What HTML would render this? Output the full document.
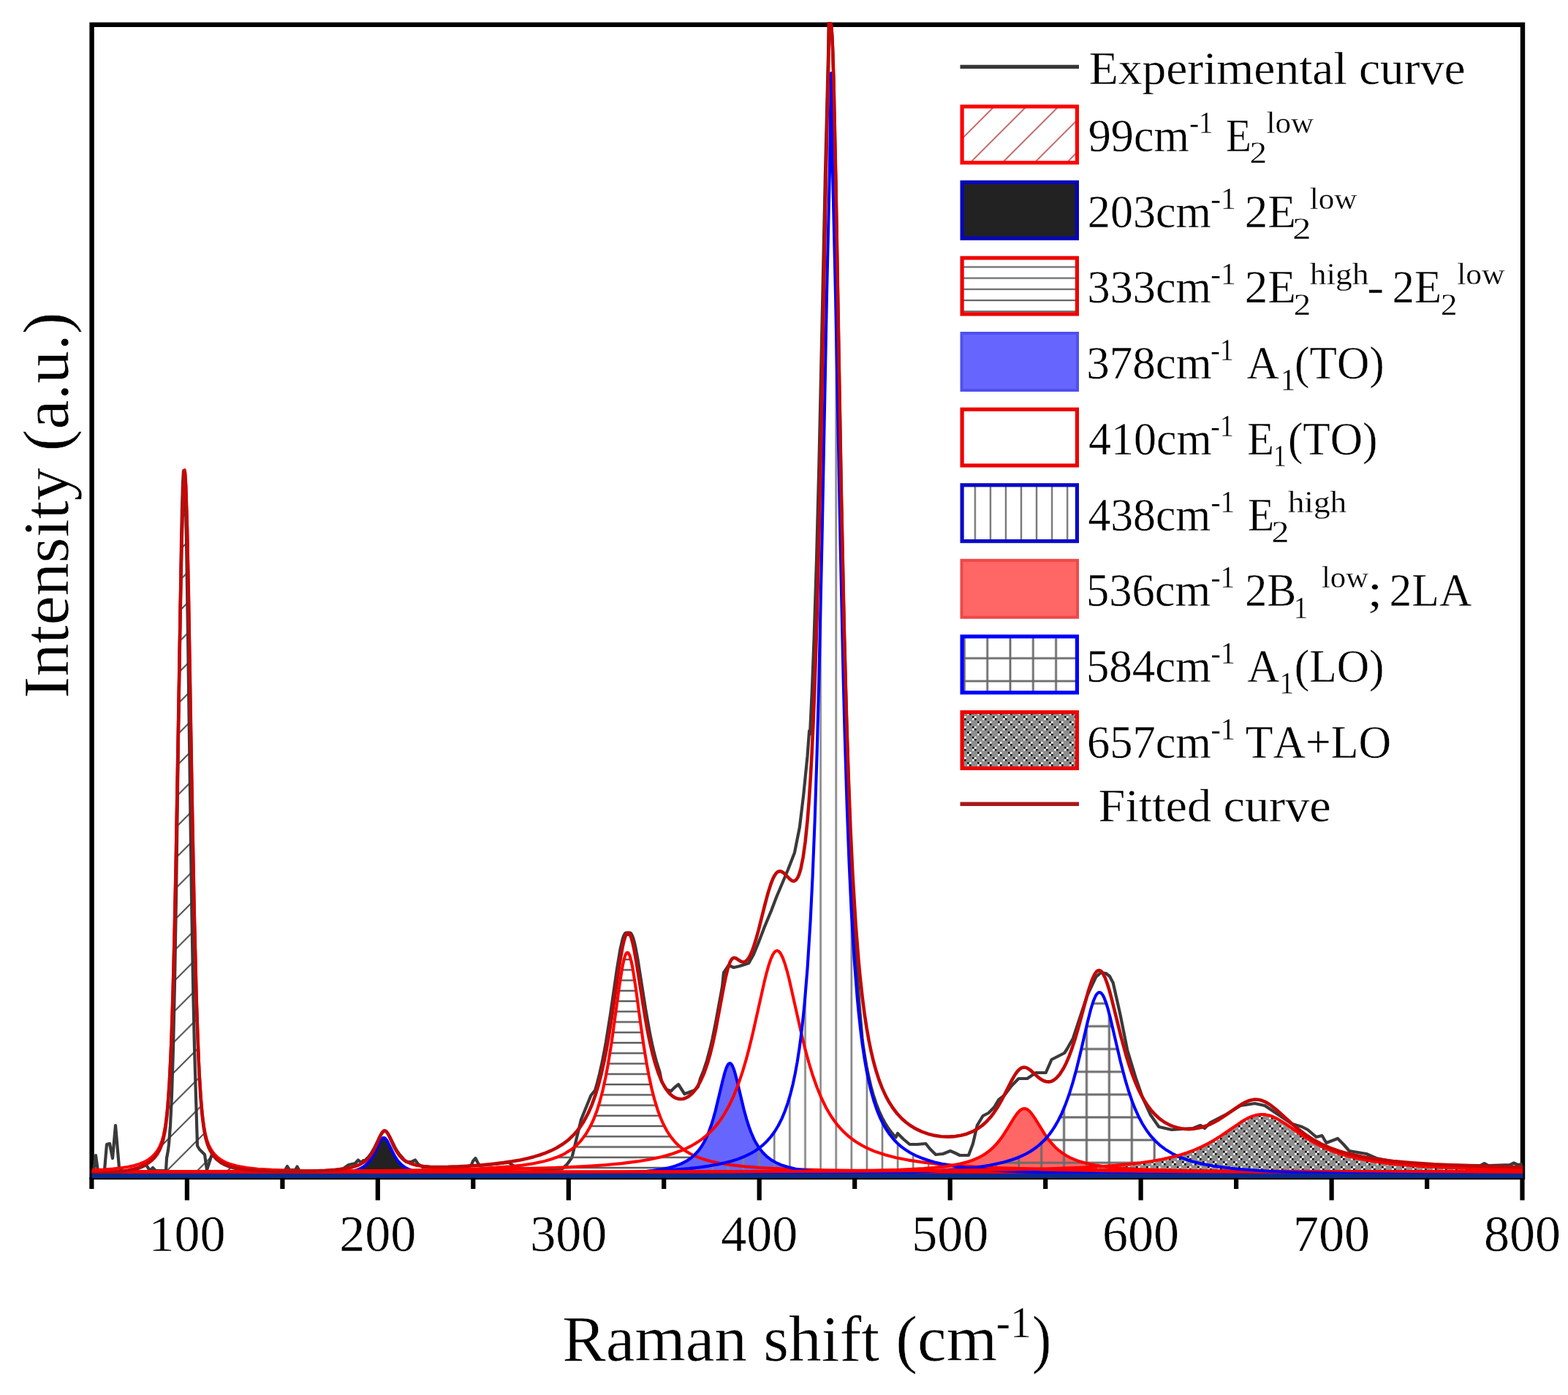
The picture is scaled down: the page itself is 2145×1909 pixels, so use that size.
<!DOCTYPE html><html><head><meta charset="utf-8"><style>html,body{margin:0;padding:0;background:#fff;}svg{display:block;}text{font-family:"Liberation Serif",serif;font-kerning:none;}</style></head><body>
<svg width="2145" height="1909" viewBox="0 0 2145 1909">
<rect width="100%" height="100%" fill="#fff"/>
<defs>
<pattern id="pDiag" patternUnits="userSpaceOnUse" width="41.6" height="41.6" x="0" y="0"><path d="M-10.4,10.4 L10.4,-10.4 M0,41.6 L41.6,0 M31.2,52 L52,31.2" stroke="#333" stroke-width="1.8"/></pattern>
<pattern id="pHor" patternUnits="userSpaceOnUse" width="20" height="14.25" x="0" y="2.05"><rect y="-1.2" width="20" height="2.4" fill="#555"/><rect y="13.05" width="20" height="2.4" fill="#555"/></pattern>
<pattern id="pVer" patternUnits="userSpaceOnUse" width="21.1" height="20" x="4.3" y="0"><rect x="-1.3" width="2.6" height="20" fill="#808080"/><rect x="19.8" width="2.6" height="20" fill="#808080"/></pattern>
<pattern id="pGrid" patternUnits="userSpaceOnUse" width="30.92" height="31.14" x="2.3" y="3.1"><rect x="-1.5" width="3" height="31.14" fill="#6a6a6a"/><rect x="29.42" width="3" height="31.14" fill="#6a6a6a"/><rect y="-1.5" width="30.92" height="3" fill="#6a6a6a"/><rect y="29.64" width="30.92" height="3" fill="#6a6a6a"/></pattern>
<pattern id="pCheck" patternUnits="userSpaceOnUse" width="14" height="14"><rect width="14" height="14" fill="#8e8e8e"/><path d="M0,0h2.8v2.8h-2.8zM2.8,2.8h2.8v2.8h-2.8zM7,7h2.8v2.8h-2.8zM9.8,9.8h2.8v2.8h-2.8z" fill="#111"/><path d="M2.8,0h2.8v2.8h-2.8zM0,2.8h2.8v2.8h-2.8zM9.8,7h2.8v2.8h-2.8zM7,9.8h2.8v2.8h-2.8z" fill="#f2f2f2"/></pattern>
<pattern id="pDiagL" patternUnits="userSpaceOnUse" width="44" height="44" x="9.8" y="0"><path d="M-11,11 L11,-11 M0,44 L44,0 M33,55 L55,33" stroke="#bf5a5a" stroke-width="1.8"/></pattern>
<pattern id="pHorL" patternUnits="userSpaceOnUse" width="20" height="15.2" x="0" y="0.6"><rect y="-1.1" width="20" height="2.2" fill="#666"/><rect y="14.1" width="20" height="2.2" fill="#666"/></pattern>
<pattern id="pVerL" patternUnits="userSpaceOnUse" width="21.05" height="20" x="7.7" y="0"><rect x="-1.2" width="2.4" height="20" fill="#777"/><rect x="19.85" width="2.4" height="20" fill="#777"/></pattern>
<pattern id="pGridL" patternUnits="userSpaceOnUse" width="31.3" height="31.3" x="4.8" y="24.4"><rect x="-1.4" width="2.8" height="31.3" fill="#6a6a6a"/><rect x="29.9" width="2.8" height="31.3" fill="#6a6a6a"/><rect y="-1.4" width="31.3" height="2.8" fill="#6a6a6a"/><rect y="29.9" width="31.3" height="2.8" fill="#6a6a6a"/></pattern>
<clipPath id="plot"><rect x="125.6" y="30" width="1957.4" height="1584"/></clipPath>
</defs>
<rect x="125.6" y="33.8" width="1957.4" height="1577.2" fill="none" stroke="#000" stroke-width="6.4"/>
<path d="M255.9,1611.0 V1642.5 M516.8,1611.0 V1642.5 M777.8,1611.0 V1642.5 M1038.7,1611.0 V1642.5 M1299.7,1611.0 V1642.5 M1560.6,1611.0 V1642.5 M1821.6,1611.0 V1642.5 M2082.5,1611.0 V1642.5 M125.4,1611.0 V1627 M386.4,1611.0 V1627 M647.3,1611.0 V1627 M908.2,1611.0 V1627 M1169.2,1611.0 V1627 M1430.2,1611.0 V1627 M1691.1,1611.0 V1627 M1952.1,1611.0 V1627" stroke="#000" stroke-width="6.2" fill="none"/>
<text x="255.9" y="1711.5" font-size="70" text-anchor="middle" fill="#000" stroke="#fff" stroke-width="0.42">100</text>
<text x="516.8" y="1711.5" font-size="70" text-anchor="middle" fill="#000" stroke="#fff" stroke-width="0.42">200</text>
<text x="777.8" y="1711.5" font-size="70" text-anchor="middle" fill="#000" stroke="#fff" stroke-width="0.42">300</text>
<text x="1038.7" y="1711.5" font-size="70" text-anchor="middle" fill="#000" stroke="#fff" stroke-width="0.42">400</text>
<text x="1299.7" y="1711.5" font-size="70" text-anchor="middle" fill="#000" stroke="#fff" stroke-width="0.42">500</text>
<text x="1560.6" y="1711.5" font-size="70" text-anchor="middle" fill="#000" stroke="#fff" stroke-width="0.42">600</text>
<text x="1821.6" y="1711.5" font-size="70" text-anchor="middle" fill="#000" stroke="#fff" stroke-width="0.42">700</text>
<text x="2082.5" y="1711.5" font-size="70" text-anchor="middle" fill="#000" stroke="#fff" stroke-width="0.42">800</text>
<g clip-path="url(#plot)">
<path d="M125.4,1603L128,1603 131,1581 134,1603 141,1603 143,1601 146,1566 150,1565 154,1585 158,1540 163,1598 166,1602 170,1603.4 182,1601 188,1599.3 194,1597.1 200,1594.2 205,1602 209,1598 213,1602 227,1602 228,1585 230,1574 231,1565.7 233,1540.2 235,1498.6 237,1434.8 239,1344.5 241,1226.8 246,865.9 248,740.9 249,694 250,661.1 251,644.1 252,644.1 253,661.1 254,694 255,740.9 257,865.9 262,1226.8 264,1344.5 266,1434.8 270,1568 273,1573 280,1580 283,1601 290,1579.4 296,1586.4 302,1591.1 308,1594.3 314,1596.7 320,1598.5 326,1599.8 338,1601.6 356,1603.1 368,1603.7 386,1604 390,1601 393,1596 396,1601 404,1601 406.5,1596.5 409,1601 414,1603.9 444,1602.9 462,1601.6 470,1599 477,1594 486,1592 490,1587.5 494,1591 497,1588 499,1588.2 504,1583.3 508,1577.9 512,1571.1 521,1552.8 523,1549.8 524,1548.8 525,1548.1 526,1547.8 527,1547.9 528,1548.4 529,1549.2 531,1551.8 533,1555.3 540,1569.5 543,1574.8 547,1580.4 551,1584.7 553,1588 556,1590 563,1590 568,1587.5 572,1593 578,1597 586,1597 598,1597.5 610,1597.5 622,1597.2 640,1596.3 645,1594 647,1589 650.5,1585 653,1590 656,1595 666,1594.2 678,1593 696,1590.6 706,1598 730,1600 755,1600 769,1599.5 776,1593 782.4,1584 795,1532 808.4,1499 814,1492.2 817,1481.8 820,1470 823,1456.8 826,1442 829,1425.6 835,1388 844,1325.8 848.5,1298.9 851.5,1285.7 853,1281.2 854.5,1278.1 856,1276.6 857.5,1276.7 859,1278.9 860.5,1276.9 862,1276.5 863.5,1277.7 865,1280.4 866.5,1284.7 868,1290.2 869.5,1297 872.5,1313.2 883,1380 889,1414 892,1428.5 895,1441.4 898,1452.7 902.5,1466.8 905,1480 911.6,1491 918,1493 923,1488 928.1,1484 936.4,1497 950,1492 955,1487 958,1476 962.5,1465 967,1451.3 971.5,1434.6 974.5,1421.6 979,1399.5 988,1350.4 990,1331 996.8,1321 1003.7,1324 1012,1322 1024.3,1318 1031,1306 1037.6,1290 1046,1268 1055.2,1246 1062,1228 1078,1190 1086.9,1167 1093.9,1132 1099.2,1088 1104.5,1035 1107.1,1000 1108,1005 1111,941.2 1113.5,876.7 1117,766.3 1120.5,630.9 1129,234.2 1133,75.2 1134,12 1134.5,16.2 1135,30.1 1135.5,32.8 1136.5,32.9 1137,34.4 1138,44.4 1139,64.2 1140.5,111.4 1143.5,253.6 1151,682 1155,868.7 1158,981 1162.5,1122.1 1165.5,1199.9 1168.5,1263.8 1171.5,1316.8 1175.5,1374.3 1179.5,1420.3 1180.5,1428.9 1182.5,1442.1 1185.5,1459.4 1188.5,1474.1 1191.5,1486.7 1194.5,1497.6 1198.5,1509.9 1202.5,1520.3 1206.5,1529 1211.5,1538.2 1214.5,1542.9 1218.5,1548.4 1221.5,1552.1 1225.5,1556.4 1228,1551 1236,1559 1244.4,1566 1255,1566 1266.4,1565 1272,1572 1280,1580 1290,1579 1300,1575 1307,1578 1313,1581 1325,1581 1331,1565 1336.8,1540 1344.6,1527 1352.4,1523 1360.2,1515 1366.1,1505 1373.9,1499 1383.7,1486 1393.5,1476 1405.2,1476 1417,1468 1430.7,1468 1438.5,1450 1456.1,1441 1460,1435 1467.9,1421 1487.4,1362 1499.2,1337 1506,1331 1512.9,1332 1518,1336 1522.7,1345 1532.4,1388 1542.2,1437 1554,1476 1563,1502 1573.5,1525 1585.3,1542 1602.9,1546 1632.2,1544 1642.2,1540 1648,1544 1655.9,1536 1677.4,1525 1697,1513 1716.6,1510 1730.3,1513 1767.4,1538 1781.1,1542 1789,1546 1800.7,1556 1808.5,1554 1814.4,1564 1830,1558 1837.9,1566 1845.7,1575 1869.2,1579 1882.9,1585 1912.3,1591 1960,1594 2025,1595 2030.5,1592 2036,1595 2066,1594 2071,1591.5 2076,1594 2082.6,1593" fill="none" stroke="#3a3a3a" stroke-width="4.2" stroke-linejoin="round"/>
<path d="M125.6,1604L125.6,1601.3 141.6,1600.5 154.6,1599.5 165.6,1598.3 175.6,1596.8 183.6,1595 190.6,1592.9 196.6,1590.5 202.6,1587.2 207.6,1583.5 211.6,1579.5 215.6,1574.2 218.6,1568.8 221.6,1561.2 223.6,1554 225.6,1544 226.6,1537.6 228.6,1520.8 229.6,1509.8 231.6,1481.3 233.6,1441.6 234.6,1416.7 236.6,1355.2 238.6,1277 240.6,1182 246.6,838.7 248.6,736.9 250.6,666.7 251.6,648.4 252,644.7 252.5,643 252.8,643.4 253.2,646.8 254.2,663.2 255.2,691.6 256.2,730.3 258.2,830.3 264.6,1192.2 267.6,1325.9 269.6,1394 272.6,1466.9 273.6,1484.6 275.6,1512.2 277.6,1531.6 279.6,1545.2 281.6,1554.8 284.6,1564.6 286.6,1569.2 288.6,1573 292.6,1578.6 297.6,1583.7 300.6,1586 304.6,1588.6 311.6,1591.9 320.6,1594.8 330.6,1597 343.6,1598.8 357.6,1600.1 375.6,1601.1 397.6,1601.9 424.6,1602.5 502.6,1603.3 633.6,1603.7 633.6,1604Z" fill="url(#pDiag)" stroke="none"/>
<path d="M321.6,1609L321.6,1608.7 395.6,1608.3 438.6,1607.4 453.6,1606.7 465.6,1605.7 474.6,1604.5 482.6,1602.9 488.6,1601 494.6,1598.3 499.6,1594.9 503.6,1591.1 507.6,1586 510.6,1581.1 513.6,1575.3 518.6,1564.6 520.6,1560.9 522.6,1558.2 523.6,1557.4 524.6,1557 525.6,1557.1 526.6,1557.5 527.6,1558.4 529.6,1561.2 539.6,1581.4 542.6,1586.3 546.6,1591.3 550.6,1595.1 555.6,1598.4 561.6,1601.1 567.6,1602.9 575.6,1604.5 584.6,1605.7 596.6,1606.7 611.6,1607.4 653.6,1608.3 727.6,1608.7 727.6,1609Z" fill="#222222" stroke="none"/>
<path d="M125.6,1604L125.6,1603.6 331.6,1603.3 467.6,1602.7 561.6,1601.7 627.6,1600.2 654.6,1599.2 677.6,1597.9 697.6,1596.3 714.6,1594.5 729.6,1592.2 742.6,1589.6 753.6,1586.5 763.6,1582.9 768.6,1580.7 773.6,1578.1 781.6,1573 788.6,1567.3 792.6,1563.3 795.6,1559.9 801.6,1551.8 806.6,1543.3 811.6,1532.9 816.6,1519.9 820.6,1507.1 824.6,1491.9 828.6,1473.6 831.6,1457.7 836.6,1426.9 847.6,1347 851.6,1322.2 853.6,1313 855.6,1306.7 856.6,1304.8 857.6,1303.7 858.6,1303.5 859.6,1304.2 860.6,1305.8 861.6,1308.3 863.6,1315.5 865.6,1325.5 869.6,1351.2 879.6,1424.2 883.6,1449.7 886.6,1466.5 889.6,1481.3 893.6,1498.3 896.6,1509.2 900.6,1521.6 905.6,1534.3 910.6,1544.5 913.6,1549.6 916.6,1554.1 919.6,1558.2 923.6,1562.9 926.6,1566 930.6,1569.6 934.6,1572.7 938.6,1575.5 942.6,1577.9 947.6,1580.5 957.6,1584.7 968.6,1588.2 980.6,1591 994.6,1593.4 1010.6,1595.5 1029.6,1597.2 1050.6,1598.6 1075.6,1599.8 1105.6,1600.7 1179.6,1602 1284.6,1602.9 1440.6,1603.4 1680.6,1603.7 1680.6,1604Z" fill="url(#pHor)" stroke="none"/>
<path d="M478.6,1609L478.6,1608.7 705.6,1608.1 770.6,1607.4 818.6,1606.5 854.6,1605.2 869.6,1604.2 882.6,1603.2 893.6,1601.9 903.6,1600.4 912.6,1598.7 920.6,1596.6 927.6,1594.3 934.6,1591.3 940.6,1587.9 945.6,1584.4 950.6,1580 954.6,1575.7 958.6,1570.4 962.6,1564 966.6,1556.1 969.6,1549 972.6,1540.8 975.6,1531.3 980.6,1512.7 989.6,1474.7 992.6,1464.2 994.6,1459.1 995.6,1457.2 996.6,1455.9 997.6,1455.2 998.6,1455 999.6,1455.4 1000.6,1456.4 1001.6,1457.9 1002.6,1460 1004.6,1465.4 1008.6,1480.3 1016.6,1514.3 1021.6,1532.7 1024.6,1542 1027.6,1550 1030.6,1557 1033.6,1562.9 1037.6,1569.6 1041.6,1575 1045.6,1579.4 1050.6,1584 1055.6,1587.6 1061.6,1591 1068.6,1594.1 1075.6,1596.4 1083.6,1598.5 1092.6,1600.3 1102.6,1601.8 1113.6,1603.1 1140.7,1605.1 1176.6,1606.5 1223.6,1607.4 1289.6,1608 1518.6,1608.7 1518.6,1609Z" fill="#6666ff" stroke="none"/>
<path d="M125.6,1609L125.6,1608.6 488.6,1608.1 606.6,1607.7 697.6,1607 770.6,1606.2 827.6,1605.1 873.6,1603.6 910.6,1601.7 942.6,1599.1 956.6,1597.5 969.6,1595.6 981.6,1593.5 991.6,1591.3 1000.6,1589 1009.6,1586.1 1017.6,1583 1025.6,1579.2 1032.6,1575.2 1038.6,1571 1044.6,1566.1 1049.6,1561.2 1054.6,1555.5 1059.6,1548.7 1064.6,1540.5 1069.6,1530.6 1073.6,1521 1077.6,1509.7 1081.6,1496.1 1084.6,1484 1087.6,1469.9 1090.6,1453.5 1093.6,1434.1 1095.6,1419.2 1098.6,1393.3 1100.6,1373.2 1104.6,1324.4 1108.6,1260.6 1111.6,1199.7 1114.6,1124.5 1117.6,1031.7 1120.6,918.4 1124.6,734.1 1131,403 1135,232.4 1136.7,109.5 1137,100 1137.3,109.5 1139,232.4 1143,403 1149.6,744.1 1153.6,926.6 1155.6,1003.6 1158.6,1101.6 1161.6,1181.2 1164.6,1245.6 1168.6,1313 1172.6,1364.4 1174.6,1385.6 1177.6,1412.8 1179.6,1428.4 1182.6,1448.6 1185.6,1465.8 1188.6,1480.4 1191.6,1493 1195.6,1507.2 1199.6,1518.9 1203.6,1528.8 1207.6,1537.2 1212.6,1545.9 1216.6,1551.8 1221.6,1558.1 1226.6,1563.5 1232.6,1568.9 1238.6,1573.3 1245.6,1577.7 1252.6,1581.3 1260.6,1584.7 1269.6,1587.8 1278.6,1590.4 1288.6,1592.7 1299.6,1594.8 1311.6,1596.7 1324.6,1598.3 1339.6,1599.9 1355.6,1601.1 1390.6,1603.1 1434.6,1604.7 1488.6,1605.9 1556.6,1606.9 1641.6,1607.5 1750.6,1608 2083,1608.6 2083,1609Z" fill="url(#pVer)" stroke="none"/>
<path d="M823.6,1604L823.6,1603.7 1054.6,1603.2 1125.6,1602.7 1178.6,1602 1220.6,1601 1252.6,1599.7 1277.6,1597.9 1288.6,1596.7 1298.6,1595.4 1307.6,1593.9 1315.6,1592.2 1322.6,1590.3 1329.6,1588 1335.6,1585.6 1341.6,1582.7 1346.6,1579.8 1351.6,1576.3 1356.6,1572.1 1360.6,1568.2 1364.6,1563.8 1368.6,1558.8 1375.6,1548.6 1387.6,1529.2 1392.6,1522.3 1395.6,1519.4 1397.6,1518 1399.6,1517.2 1401.6,1517 1403.6,1517.4 1405.6,1518.4 1407.6,1519.9 1410.6,1523.1 1415.6,1530.1 1428.6,1551.1 1434.6,1559.6 1438.6,1564.5 1442.6,1568.9 1446.6,1572.7 1450.6,1576 1455.6,1579.5 1461.6,1583 1467.6,1585.9 1473.6,1588.2 1480.6,1590.5 1487.6,1592.3 1495.6,1594 1504.6,1595.5 1525.6,1597.9 1550.6,1599.7 1582.6,1601 1624.6,1602 1677.6,1602.7 1748.6,1603.2 1978.6,1603.7 1978.6,1604Z" fill="#ff6666" stroke="none"/>
<path d="M434.6,1609L434.6,1608.7 738.6,1608.4 937.6,1607.9 1074.6,1607.2 1170.6,1605.9 1209.6,1605.1 1242.6,1604.1 1270.6,1602.8 1295.6,1601.3 1317.6,1599.5 1336.6,1597.3 1352.6,1594.9 1367.6,1591.8 1381.6,1588 1393.6,1583.7 1399.6,1581 1404.6,1578.5 1413.6,1573 1418.6,1569.3 1422.6,1566 1426.6,1562.3 1430.6,1558.1 1437.6,1549.5 1441.6,1543.7 1444.6,1538.8 1449.6,1529.6 1454.6,1518.8 1459.6,1506.1 1463.6,1494.5 1468.6,1478 1473.6,1459.2 1487.6,1399.2 1492.6,1379.8 1495.6,1370.3 1498.6,1363.2 1500.6,1360.1 1501.6,1359.1 1502.6,1358.4 1503.6,1358 1504.6,1358.1 1505.6,1358.5 1506.6,1359.2 1508.6,1361.8 1510.6,1365.7 1513.6,1373.8 1515.6,1380.5 1518.6,1391.8 1532.6,1451.9 1539.6,1478.7 1543.6,1492 1548.6,1506.7 1552.6,1516.9 1557.6,1528 1562.6,1537.5 1568.6,1547 1574.6,1554.9 1580.6,1561.5 1587.6,1567.9 1595.6,1573.8 1603.6,1578.6 1612.6,1582.9 1622.6,1586.7 1633.6,1590.1 1645.6,1593 1659.6,1595.6 1675.6,1597.8 1692.6,1599.7 1712.6,1601.3 1734.6,1602.7 1759.6,1603.8 1787.6,1604.8 1857.6,1606.3 1952.6,1607.3 2083,1608 2083,1609Z" fill="url(#pGrid)" stroke="none"/>
<path d="M544.6,1604L544.6,1603.7 1009.6,1603.2 1153.6,1602.7 1262.6,1602.1 1347.6,1601.2 1413.6,1599.9 1466.6,1598.2 1509.6,1595.9 1527.6,1594.6 1544.6,1593 1559.6,1591.3 1573.6,1589.3 1586.6,1587.1 1598.6,1584.5 1609.6,1581.8 1620.6,1578.5 1629.6,1575.3 1638.6,1571.7 1647.6,1567.5 1655.6,1563.2 1662.6,1559.2 1670.6,1554.1 1696.6,1536.2 1701.6,1533.1 1706.6,1530.4 1711.6,1528.1 1716.6,1526.4 1721.6,1525.3 1726.6,1525 1731.6,1525.4 1736.6,1526.5 1741.6,1528.3 1747.6,1531.2 1757.6,1537.3 1778.6,1551.8 1788.6,1558.3 1799.6,1564.7 1810.6,1570.1 1821.6,1574.8 1832.6,1578.7 1845.6,1582.5 1858.6,1585.6 1875.6,1588.8 1895.6,1591.6 1917.6,1594 1941.6,1595.9 1969.6,1597.5 2001.6,1598.8 2038.6,1599.9 2083,1600.8 2083,1604Z" fill="url(#pCheck)" stroke="none"/>
<path d="M125.6,1601.3L141.6,1600.5 154.6,1599.5 165.6,1598.3 175.6,1596.8 183.6,1595 190.6,1592.9 196.6,1590.5 202.6,1587.2 207.6,1583.5 211.6,1579.5 215.6,1574.2 218.6,1568.8 221.6,1561.2 223.6,1554 225.6,1544 226.6,1537.6 228.6,1520.8 229.6,1509.8 231.6,1481.3 233.6,1441.6 234.6,1416.7 236.6,1355.2 238.6,1277 240.6,1182 246.6,838.7 248.6,736.9 250.6,666.7 251.6,648.4 252,644.7 252.5,643 252.8,643.4 253.2,646.8 254.2,663.2 256,719.8 258,816.6 262.6,1084.3 265.6,1240.9 268.6,1362.1 270.6,1421.9 272.6,1466.9 274.6,1499.6 276.6,1522.7 277.6,1531.6 279.6,1545.2 280.6,1550.4 282.6,1558.6 284.6,1564.6 286.6,1569.2 288.6,1573 291.6,1577.4 294.6,1580.8 297.6,1583.7 301.6,1586.7 305.6,1589.1 309.6,1591.1 314.6,1593 324.6,1595.8 337.6,1598.1 352.6,1599.7 371.6,1600.9 396.6,1601.9 428.6,1602.6 470.6,1603.1 583.6,1603.6 790.6,1603.8 2083,1604" fill="none" stroke="#ff0000" stroke-width="4.1" stroke-linejoin="round"/>
<path d="M125.6,1608.9L308.6,1608.7 395.6,1608.3 422.6,1607.8 442.6,1607.2 458.6,1606.3 470.6,1605.1 480.6,1603.4 488.6,1601 494.6,1598.3 497.6,1596.4 500.6,1594 504.6,1590 508.6,1584.5 512.6,1577.3 518.6,1564.6 520.6,1560.9 522.6,1558.2 523.6,1557.4 524.6,1557 525.6,1557.1 526.6,1557.5 527.6,1558.4 529.6,1561.2 538.6,1579.6 540.6,1583.2 543.6,1587.7 546.6,1591.3 549.6,1594.2 552.6,1596.5 555.6,1598.4 559.6,1600.3 564.6,1602.1 570.6,1603.6 576.6,1604.7 591.6,1606.3 613.6,1607.5 639.6,1608.1 676.6,1608.5 812.6,1608.8 2083,1609" fill="none" stroke="#0000ff" stroke-width="4.1" stroke-linejoin="round"/>
<path d="M125.6,1603.6L331.6,1603.3 467.6,1602.7 561.6,1601.7 627.6,1600.2 654.6,1599.2 677.6,1597.9 697.6,1596.3 714.6,1594.5 729.6,1592.2 742.6,1589.6 753.6,1586.5 763.6,1582.9 768.6,1580.7 773.6,1578.1 781.6,1573 788.6,1567.3 792.6,1563.3 795.6,1559.9 801.6,1551.8 806.6,1543.3 811.6,1532.9 816.6,1519.9 820.6,1507.1 824.6,1491.9 828.6,1473.6 831.6,1457.7 836.6,1426.9 847.6,1347 851.6,1322.2 853.6,1313 855.6,1306.7 856.6,1304.8 857.6,1303.7 858.6,1303.5 859.6,1304.2 860.6,1305.8 861.6,1308.3 863.6,1315.5 865.6,1325.5 869.6,1351.2 876.6,1403.1 880.6,1430.9 884.6,1455.5 887.6,1471.6 891.6,1490.2 895.6,1505.7 899.6,1518.7 903.6,1529.5 906.6,1536.5 909.6,1542.6 912.6,1548 915.6,1552.7 918.6,1556.9 922.6,1561.8 925.6,1565 929.6,1568.7 933.6,1572 938.6,1575.5 943.6,1578.5 948.6,1581 953.6,1583.2 959.6,1585.4 965.6,1587.3 972.6,1589.2 985.6,1592 1001.6,1594.4 1019.6,1596.4 1040.6,1598 1065.6,1599.3 1094.6,1600.4 1129.1,1601.3 1170.6,1601.9 1276.6,1602.8 1434.6,1603.4 2083,1603.9" fill="none" stroke="#ff0000" stroke-width="4.1" stroke-linejoin="round"/>
<path d="M125.6,1608.9L564.6,1608.6 677.6,1608.2 754.6,1607.6 810.6,1606.7 851.6,1605.3 867.6,1604.4 881.6,1603.3 893.6,1601.9 904.6,1600.3 914.6,1598.2 923.6,1595.7 931.6,1592.7 938.6,1589.2 944.6,1585.2 950.6,1580 955.6,1574.5 959.6,1569 963.6,1562.2 966.6,1556.1 969.6,1549 972.6,1540.8 975.6,1531.3 978.6,1520.5 988.6,1478.7 991.6,1467.4 993.6,1461.4 995.6,1457.2 996.6,1455.9 997.6,1455.2 998.6,1455 999.6,1455.4 1000.6,1456.4 1001.6,1457.9 1003.6,1462.5 1005.6,1468.7 1008.6,1480.3 1017.6,1518.2 1021.6,1532.7 1024.6,1542 1027.6,1550 1031.6,1559.1 1034.6,1564.7 1038.6,1571 1043.6,1577.3 1048.6,1582.3 1054.6,1586.9 1061.6,1591 1068.6,1594.1 1077.6,1597 1087.6,1599.4 1099.6,1601.4 1111.6,1602.9 1125.6,1604.1 1141.3,1605.1 1159.6,1605.9 1207.6,1607.2 1274.6,1607.9 1367.6,1608.4 1507.6,1608.7 2083,1608.9" fill="none" stroke="#0000ff" stroke-width="4.1" stroke-linejoin="round"/>
<path d="M125.6,1603.4L365.6,1602.9 530.6,1602 648.6,1600.8 694.6,1599.9 734.6,1598.9 769.6,1597.6 800.6,1596.1 827.6,1594.2 850.6,1592.1 871.6,1589.4 889.6,1586.4 905.6,1583 919.6,1579 932.6,1574.3 938.6,1571.7 944.6,1568.7 950.6,1565.3 955.6,1562.1 960.6,1558.6 965.6,1554.6 970.6,1550.1 974.6,1546 978.6,1541.6 982.6,1536.6 986.6,1531.1 990.6,1525 997.6,1512.5 1003.6,1499.8 1009.6,1484.8 1015.6,1467.2 1020.6,1450.4 1024.6,1435.4 1029.6,1415 1045.6,1343.6 1048.6,1331.6 1051.6,1320.9 1054.6,1312.1 1057.6,1305.7 1059.6,1302.9 1060.6,1301.9 1062.6,1301 1063.6,1301.1 1064.6,1301.4 1065.6,1302.1 1067.6,1304.4 1070.6,1310.2 1073.6,1318.4 1076.6,1328.6 1079.6,1340.3 1096.6,1415.9 1101.6,1436.2 1106.6,1454.6 1111.6,1471 1117.6,1488 1123.6,1502.5 1129.6,1514.9 1133.2,1521.3 1136.9,1527.4 1140.7,1533 1144.7,1538.3 1148.6,1542.9 1153.6,1548.3 1157.6,1552.1 1162.6,1556.4 1167.6,1560.2 1172.6,1563.6 1177.6,1566.6 1183.6,1569.8 1189.6,1572.7 1196.6,1575.6 1210.6,1580.3 1225.6,1584.2 1242.6,1587.6 1261.6,1590.4 1283.6,1592.9 1308.6,1595 1336.6,1596.7 1369.6,1598.2 1407.6,1599.4 1450.6,1600.3 1500.6,1601.1 1629.6,1602.3 1812.6,1603 2083,1603.5" fill="none" stroke="#ff0000" stroke-width="4.1" stroke-linejoin="round"/>
<path d="M125.6,1608.6L488.6,1608.1 606.6,1607.7 697.6,1607 770.6,1606.2 827.6,1605.1 873.6,1603.6 910.6,1601.7 942.6,1599.1 956.6,1597.5 969.6,1595.6 981.6,1593.5 991.6,1591.3 1000.6,1589 1009.6,1586.1 1017.6,1583 1025.6,1579.2 1032.6,1575.2 1038.6,1571 1044.6,1566.1 1049.6,1561.2 1054.6,1555.5 1059.6,1548.7 1064.6,1540.5 1069.6,1530.6 1073.6,1521 1077.6,1509.7 1081.6,1496.1 1084.6,1484 1087.6,1469.9 1090.6,1453.5 1093.6,1434.1 1095.6,1419.2 1098.6,1393.3 1100.6,1373.2 1104.6,1324.4 1108.6,1260.6 1111.6,1199.7 1114.6,1124.5 1117.6,1031.7 1120.6,918.4 1124.6,734.1 1131,403 1135,232.4 1136.7,109.5 1137,100 1137.3,109.5 1139,232.4 1143,403 1149.6,744.1 1153.6,926.6 1155.6,1003.6 1158.6,1101.6 1161.6,1181.2 1164.6,1245.6 1168.6,1313 1172.6,1364.4 1174.6,1385.6 1177.6,1412.8 1179.6,1428.4 1182.6,1448.6 1185.6,1465.8 1188.6,1480.4 1191.6,1493 1195.6,1507.2 1199.6,1518.9 1203.6,1528.8 1207.6,1537.2 1212.6,1545.9 1216.6,1551.8 1221.6,1558.1 1226.6,1563.5 1232.6,1568.9 1238.6,1573.3 1245.6,1577.7 1252.6,1581.3 1260.6,1584.7 1269.6,1587.8 1278.6,1590.4 1288.6,1592.7 1299.6,1594.8 1311.6,1596.7 1324.6,1598.3 1339.6,1599.9 1355.6,1601.1 1390.6,1603.1 1434.6,1604.7 1488.6,1605.9 1556.6,1606.9 1641.6,1607.5 1750.6,1608 2083,1608.6" fill="none" stroke="#0000ff" stroke-width="4.1" stroke-linejoin="round"/>
<path d="M125.6,1603.9L767.6,1603.8 1044.6,1603.2 1127.6,1602.7 1186.6,1601.9 1230.6,1600.7 1263.6,1599 1278.6,1597.8 1291.6,1596.4 1303.6,1594.6 1313.6,1592.6 1322.6,1590.3 1330.6,1587.7 1337.6,1584.7 1344.6,1581 1349.6,1577.7 1353.6,1574.7 1358.6,1570.2 1362.6,1566.1 1367.6,1560.1 1372.6,1553.2 1377.6,1545.4 1386.6,1530.7 1391.6,1523.5 1394.6,1520.3 1396.6,1518.6 1399.6,1517.2 1401.6,1517 1403.6,1517.4 1405.6,1518.4 1407.6,1519.9 1410.6,1523.1 1415.6,1530.1 1428.6,1551.1 1434.6,1559.6 1438.6,1564.5 1443.6,1569.9 1447.6,1573.5 1452.6,1577.4 1457.6,1580.8 1463.6,1584 1469.6,1586.7 1476.6,1589.3 1483.6,1591.3 1491.6,1593.2 1500.6,1594.9 1510.6,1596.3 1533.6,1598.6 1562.6,1600.3 1599.6,1601.5 1647.6,1602.4 1710.6,1603 1795.6,1603.4 2083,1603.8" fill="none" stroke="#ff0000" stroke-width="4.1" stroke-linejoin="round"/>
<path d="M125.6,1608.8L817.6,1608.3 995.6,1607.7 1117.6,1606.7 1206.6,1605.2 1240.6,1604.1 1270.6,1602.8 1296.6,1601.3 1318.6,1599.4 1337.6,1597.2 1354.6,1594.5 1370.6,1591.1 1384.6,1587 1391.6,1584.5 1397.6,1581.9 1403.6,1579 1408.6,1576.2 1413.6,1573 1418.6,1569.3 1423.6,1565.1 1427.6,1561.3 1431.6,1557 1435.6,1552.2 1439.6,1546.7 1442.6,1542.1 1447.6,1533.5 1452.6,1523.3 1457.6,1511.4 1462.6,1497.5 1467.6,1481.4 1472.6,1463.1 1477.6,1442.7 1487.6,1399.2 1492.6,1379.8 1495.6,1370.3 1498.6,1363.2 1500.6,1360.1 1501.6,1359.1 1502.6,1358.4 1503.6,1358 1504.6,1358.1 1505.6,1358.5 1506.6,1359.2 1508.6,1361.8 1510.6,1365.7 1513.6,1373.8 1515.6,1380.5 1518.6,1391.8 1532.6,1451.9 1539.6,1478.7 1543.6,1492 1548.6,1506.7 1552.6,1516.9 1557.6,1528 1562.6,1537.5 1568.6,1547 1574.6,1554.9 1580.6,1561.5 1587.6,1567.9 1595.6,1573.8 1603.6,1578.6 1612.6,1582.9 1622.6,1586.7 1633.6,1590.1 1645.6,1593 1659.6,1595.6 1675.6,1597.8 1692.6,1599.7 1712.6,1601.3 1734.6,1602.7 1759.6,1603.8 1787.6,1604.8 1857.6,1606.3 1952.6,1607.3 2083,1608" fill="none" stroke="#0000ff" stroke-width="4.1" stroke-linejoin="round"/>
<path d="M125.6,1603.8L819.6,1603.5 1167.6,1602.7 1279.6,1601.9 1364.6,1600.9 1430.6,1599.5 1482.6,1597.5 1505.6,1596.2 1525.6,1594.8 1543.6,1593.1 1560.6,1591.2 1575.6,1589 1589.6,1586.5 1602.6,1583.6 1614.6,1580.4 1624.6,1577.1 1634.6,1573.4 1644.6,1568.9 1653.6,1564.3 1661.6,1559.8 1669.6,1554.7 1697.6,1535.6 1702.6,1532.5 1707.6,1529.9 1712.6,1527.7 1717.6,1526.1 1722.6,1525.2 1726.6,1525 1731.6,1525.4 1736.6,1526.5 1741.6,1528.3 1747.6,1531.2 1757.6,1537.3 1778.6,1551.8 1788.6,1558.3 1799.6,1564.7 1810.6,1570.1 1821.6,1574.8 1832.6,1578.7 1845.6,1582.5 1858.6,1585.6 1875.6,1588.8 1895.6,1591.6 1917.6,1594 1941.6,1595.9 1969.6,1597.5 2001.6,1598.8 2038.6,1599.9 2083,1600.8" fill="none" stroke="#ff0000" stroke-width="4.1" stroke-linejoin="round"/>
<path d="M125.6,1606.5L141.6,1605.5 154.6,1604.4 165.6,1603.1 175.6,1601.4 183.6,1599.6 190.6,1597.4 196.6,1595 202.6,1591.6 207.6,1587.8 211.6,1583.8 215.6,1578.5 218.6,1573 221.6,1565.3 223.6,1558.1 225.6,1548.1 226.6,1541.7 228.6,1524.8 229.6,1513.8 231.6,1485.2 233.6,1445.5 234.6,1420.5 236.6,1358.9 238.6,1280.6 240.6,1185.6 246.6,841.8 248.6,739.9 250.6,669.6 251.6,651.2 252,647.5 252.5,645.8 252.8,646.2 253.2,649.6 254.2,666 256,722.6 258,819.6 262.6,1087.5 265.6,1244.2 268.6,1365.4 271.6,1449.5 272.6,1470.3 274.6,1503 276.6,1526.2 278.6,1542.4 280.6,1553.8 281.6,1558.2 283.6,1565.2 285.6,1570.4 287.6,1574.5 289.6,1577.8 292.6,1581.9 296.6,1586 300.6,1589.1 305.6,1592.2 310.6,1594.5 316.6,1596.5 323.6,1598.3 331.6,1599.8 341.6,1601 354.6,1602.1 369.6,1602.7 387.6,1603.1 407.6,1603 427.6,1602.6 444.6,1601.9 458.6,1600.9 469.6,1599.6 480.6,1597.6 488.6,1595.1 492.6,1593.3 495.6,1591.6 498.6,1589.6 501.6,1587 504.6,1583.9 506.6,1581.3 510.6,1575 513.6,1569.1 519.6,1555.7 522.6,1550.1 524.6,1547.9 525.6,1547.4 526.6,1547.4 527.6,1547.8 528.6,1548.6 530.6,1551.4 532.6,1555.2 538.6,1568.3 542.6,1575.7 546.6,1581.4 550.6,1585.6 553.6,1588 556.6,1589.8 562.6,1592.5 570.6,1594.7 579.6,1596 588.6,1596.7 599.6,1597 612.6,1596.9 627.6,1596.4 643.6,1595.5 659.6,1594.3 674.6,1592.8 688.6,1591.1 700.6,1589.3 711.6,1587.4 721.6,1585.2 730.6,1582.9 738.6,1580.5 746.6,1577.6 753.6,1574.7 760.6,1571.3 769.6,1565.8 774.6,1562.2 778.6,1558.9 785.6,1552.1 789.6,1547.5 792.6,1543.7 798.6,1534.7 804.6,1523.5 809.6,1512.1 814.6,1498.2 818.6,1485 822.6,1469.6 826.6,1451.6 829.6,1436.2 832.6,1419.2 836.6,1394 847.6,1318.6 851.6,1295.9 853.6,1287.2 855.6,1280.9 856.6,1278.7 857.6,1277.3 858.6,1276.5 859.6,1276.5 860.6,1277.2 861.6,1278.6 863.6,1283.4 865.6,1290.7 867.6,1300 870.6,1316.8 882.6,1392.6 885.6,1409.3 888.6,1424.4 892.6,1441.8 896.6,1456.4 900.6,1468.5 904.6,1478.3 906.6,1482.5 909.6,1487.9 912.6,1492.3 915.6,1496 918.6,1498.9 921.6,1501.1 924.6,1502.7 927.6,1503.6 930.6,1504 934.6,1503.7 937.6,1502.8 940.6,1501.3 944.6,1498.4 947.6,1495.6 950.6,1492 953.6,1487.8 958.6,1478.9 962.6,1469.9 967.6,1455.9 971.6,1442 974.6,1430 978.6,1411.6 989.6,1352.5 992.6,1337.7 995.6,1325.4 998.6,1316.8 1000.6,1313.2 1001.6,1312 1003.6,1310.8 1004.6,1310.7 1006.6,1311.2 1013.6,1315.7 1015.6,1316.4 1016.6,1316.6 1018.6,1316.3 1020.6,1315.2 1022.6,1313.2 1024.6,1310.3 1026.6,1306.6 1028.6,1302 1030.6,1296.6 1033.6,1287.3 1037.6,1273 1046.6,1237.1 1050.6,1222.1 1054.6,1209.4 1057.6,1201.9 1059.6,1198.1 1061.6,1195.2 1063.6,1193.3 1064.6,1192.7 1066.6,1192.2 1068.6,1192.5 1071.6,1194.3 1073.6,1196 1080.6,1203.2 1083.6,1205.3 1085.6,1205.7 1086.6,1205.6 1088.6,1204.4 1089.6,1203.4 1091.6,1200.2 1092.6,1197.9 1094.6,1192 1095.6,1188.3 1098.6,1173.4 1101.6,1152 1104.6,1122.6 1106.6,1097.6 1108.6,1067.4 1110.6,1031.4 1112.6,988.4 1114.6,937.6 1117.6,844.2 1120.6,727.4 1122.6,635.8 1130.3,222.2 1133.6,71.9 1134.6,6.8 1135.3,30.6 1135.6,32.6 1135.8,32.9 1136.5,32.8 1137.1,35 1138.3,49.3 1139.3,72 1140.4,107.6 1143.3,242.7 1150.6,661 1154.6,852 1157.6,967.3 1160.6,1061.3 1163.6,1137.6 1166.6,1199.6 1170.6,1265 1174.6,1315.7 1176.6,1336.8 1179.6,1364.1 1182.6,1387.2 1185.6,1406.9 1188.6,1423.9 1191.6,1438.5 1194.6,1451.3 1198.6,1465.8 1202.6,1478.1 1206.6,1488.6 1211.6,1499.6 1216.6,1508.8 1221.6,1516.5 1227.6,1524.3 1233.6,1530.7 1239.6,1536 1246.6,1541.1 1253.6,1545.2 1261.6,1548.9 1269.6,1551.7 1278.6,1553.9 1287.6,1555.2 1297.6,1555.6 1306.6,1555.1 1314.6,1553.8 1322.6,1551.7 1330.6,1548.4 1337.6,1544.5 1343.6,1540.2 1349.6,1534.8 1354.6,1529.3 1359.6,1522.8 1364.6,1515.3 1369.6,1506.7 1382.6,1481.2 1386.6,1473.9 1389.6,1469.1 1391.6,1466.4 1393.6,1464.2 1395.6,1462.5 1397.6,1461.3 1400.6,1460.6 1402.6,1460.7 1405.6,1461.8 1409.6,1464.5 1419.6,1473.6 1423.6,1476.7 1427.6,1479 1431.6,1480.3 1434.6,1480.4 1436.6,1480.2 1438.6,1479.6 1440.6,1478.6 1443.6,1476.6 1445.6,1474.8 1449.6,1470.3 1454.6,1462.5 1458.6,1454.7 1462.6,1445.3 1466.6,1434.4 1470.6,1422.1 1474.6,1408.4 1488.6,1357 1493.6,1341.7 1496.6,1334.8 1498.6,1331.4 1500.6,1329.1 1501.6,1328.4 1503.6,1327.9 1505.6,1328.6 1506.6,1329.4 1508.6,1331.9 1511.6,1337.7 1514.6,1345.7 1517.6,1355.4 1520.6,1366.5 1533.6,1418.9 1540.6,1444.6 1544.6,1457.6 1548.6,1469.3 1552.6,1479.8 1556.6,1489.2 1560.6,1497.4 1565.6,1506.3 1570.6,1513.9 1575.6,1520.4 1580.6,1525.8 1586.6,1531.2 1592.6,1535.5 1599.6,1539.3 1604.6,1541.4 1610.6,1543.2 1615.6,1544.3 1621.6,1545 1626.6,1545.1 1632.6,1544.7 1638.6,1543.8 1644.6,1542.4 1649.6,1540.8 1654.6,1538.8 1659.6,1536.5 1665.6,1533.3 1675.6,1526.9 1694.6,1513.6 1699.6,1510.5 1703.6,1508.3 1708.6,1506.2 1712.6,1505.2 1716.6,1504.6 1720.6,1504.8 1724.6,1505.5 1729.6,1507.3 1733.6,1509.4 1738.6,1512.7 1747.6,1519.9 1765.6,1536.3 1775.6,1544.9 1785.6,1552.4 1796.6,1559.6 1807.6,1565.5 1819.6,1570.8 1831.6,1575.1 1845.6,1579.1 1863.6,1583.1 1883.6,1586.4 1905.6,1589.1 1931.6,1591.4 1961.6,1593.4 1995.6,1594.9 2035.6,1596.2 2083,1597.3" fill="none" stroke="#c20808" stroke-width="4.6" stroke-linejoin="round"/>
<rect x="125.6" y="1605.9" width="1957.4" height="6.2" fill="#0c2a8a"/>
</g>
<text transform="translate(769.13,1861.50) scale(1.0032,1)" font-size="89" fill="#000" stroke="#fff" stroke-width="0.53" >Raman shift (cm</text>
<text transform="translate(1362.85,1829.90) scale(0.9491,1)" font-size="61" fill="#000" stroke="#fff" stroke-width="0.37" >-1</text>
<text transform="translate(1411.63,1861.50) scale(0.8968,1)" font-size="89" fill="#000" stroke="#fff" stroke-width="0.53" >)</text>
<text transform="translate(92.5,955.76) rotate(-90) scale(1.0135,1)" font-size="89" fill="#000" stroke="#fff" stroke-width="0.53">Intensity (a.u.)</text>
<path d="M1313.5,91.4 H1476.0" stroke="#363636" stroke-width="5.4"/>
<path d="M1313.5,1100.2 H1476.0" stroke="#a81818" stroke-width="5.6"/>
<rect x="1316.1" y="145.8" width="157.3" height="76.8" fill="url(#pDiagL)" stroke="#ff0000" stroke-width="5.2"/>
<rect x="1316.1" y="249.4" width="157.3" height="76.8" fill="#222222" stroke="#0606b8" stroke-width="5.2"/>
<rect x="1316.1" y="353.0" width="157.3" height="76.8" fill="url(#pHorL)" stroke="#ee0000" stroke-width="5.2"/>
<rect x="1315.5" y="456.0" width="158.5" height="78.0" fill="#6666ff" stroke="#5050f0" stroke-width="4"/>
<rect x="1316.1" y="560.2" width="157.3" height="76.8" fill="#ffffff" stroke="#ee0000" stroke-width="5.2"/>
<rect x="1316.1" y="663.8" width="157.3" height="76.8" fill="url(#pVerL)" stroke="#0a0ac8" stroke-width="5.2"/>
<rect x="1315.5" y="766.8" width="158.5" height="78.0" fill="#ff6666" stroke="#f04848" stroke-width="4"/>
<rect x="1316.1" y="871.0" width="157.3" height="76.8" fill="url(#pGridL)" stroke="#0000ff" stroke-width="5.2"/>
<rect x="1316.1" y="974.6" width="157.3" height="76.8" fill="url(#pCheck)" stroke="#ee0000" stroke-width="5.2"/>
<text transform="translate(1489.71,114.60) scale(1.0401,1)" font-size="63" fill="#000" stroke="#fff" stroke-width="0.38" >Experimental curve</text>
<text transform="translate(1502.59,1123.80) scale(1.0510,1)" font-size="63" fill="#000" stroke="#fff" stroke-width="0.38" >Fitted curve</text>
<text transform="translate(1488.80,207.00) scale(0.9858,1)" font-size="63" fill="#000" stroke="#fff" stroke-width="0.38" >99cm</text>
<text transform="translate(1627.27,182.00) scale(0.9081,1)" font-size="42.5" fill="#000" stroke="#fff" stroke-width="0.26" >-1</text>
<text transform="translate(1676.95,207.00) scale(0.9066,1)" font-size="63" fill="#000" stroke="#fff" stroke-width="0.38" >E</text>
<text transform="translate(1709.86,223.30) scale(1.0917,1)" font-size="42.5" fill="#000" stroke="#fff" stroke-width="0.26" >2</text>
<text transform="translate(1732.54,182.00) scale(1.0142,1)" font-size="42.5" fill="#000" stroke="#fff" stroke-width="0.26" >low</text>
<text transform="translate(1487.87,310.70) scale(0.9856,1)" font-size="63" fill="#000" stroke="#fff" stroke-width="0.38" >203cm</text>
<text transform="translate(1656.26,285.70) scale(0.9753,1)" font-size="42.5" fill="#000" stroke="#fff" stroke-width="0.26" >-1</text>
<text transform="translate(1702.73,310.70) scale(1.0019,1)" font-size="63" fill="#000" stroke="#fff" stroke-width="0.38" >2E</text>
<text transform="translate(1768.17,327.00) scale(1.1915,1)" font-size="42.5" fill="#000" stroke="#fff" stroke-width="0.26" >2</text>
<text transform="translate(1791.74,285.70) scale(1.0142,1)" font-size="42.5" fill="#000" stroke="#fff" stroke-width="0.26" >low</text>
<text transform="translate(1487.62,414.40) scale(0.9871,1)" font-size="63" fill="#000" stroke="#fff" stroke-width="0.38" >333cm</text>
<text transform="translate(1656.26,389.40) scale(0.9753,1)" font-size="42.5" fill="#000" stroke="#fff" stroke-width="0.26" >-1</text>
<text transform="translate(1702.73,414.40) scale(1.0019,1)" font-size="63" fill="#000" stroke="#fff" stroke-width="0.38" >2E</text>
<text transform="translate(1769.64,430.70) scale(1.1035,1)" font-size="42.5" fill="#000" stroke="#fff" stroke-width="0.26" >2</text>
<text transform="translate(1791.66,389.40) scale(1.0700,1)" font-size="42.5" fill="#000" stroke="#fff" stroke-width="0.26" >high</text>
<text transform="translate(1870.13,414.40) scale(1.0999,1)" font-size="63" fill="#000" stroke="#fff" stroke-width="0.38" >-</text>
<text transform="translate(1904.53,414.40) scale(0.9645,1)" font-size="63" fill="#000" stroke="#fff" stroke-width="0.38" >2E</text>
<text transform="translate(1970.93,430.70) scale(1.0565,1)" font-size="42.5" fill="#000" stroke="#fff" stroke-width="0.26" >2</text>
<text transform="translate(1993.13,389.40) scale(1.0237,1)" font-size="42.5" fill="#000" stroke="#fff" stroke-width="0.26" >low</text>
<text transform="translate(1486.18,518.10) scale(1.0002,1)" font-size="63" fill="#000" stroke="#fff" stroke-width="0.38" >378cm</text>
<text transform="translate(1656.30,493.10) scale(0.8889,1)" font-size="42.5" fill="#000" stroke="#fff" stroke-width="0.26" >-1</text>
<text transform="translate(1705.40,518.10) scale(0.9725,1)" font-size="63" fill="#000" stroke="#fff" stroke-width="0.38" >A</text>
<text transform="translate(1751.70,534.40) scale(0.9624,1)" font-size="42.5" fill="#000" stroke="#fff" stroke-width="0.26" >1</text>
<text transform="translate(1771.11,518.10) scale(0.9734,1)" font-size="63" fill="#000" stroke="#fff" stroke-width="0.38" >(TO)</text>
<text transform="translate(1489.09,621.80) scale(0.9832,1)" font-size="63" fill="#000" stroke="#fff" stroke-width="0.38" >410cm</text>
<text transform="translate(1656.30,596.80) scale(0.8889,1)" font-size="42.5" fill="#000" stroke="#fff" stroke-width="0.26" >-1</text>
<text transform="translate(1706.27,621.80) scale(0.9544,1)" font-size="63" fill="#000" stroke="#fff" stroke-width="0.38" >E</text>
<text transform="translate(1741.90,638.10) scale(0.8288,1)" font-size="42.5" fill="#000" stroke="#fff" stroke-width="0.26" >1</text>
<text transform="translate(1761.91,621.80) scale(0.9726,1)" font-size="63" fill="#000" stroke="#fff" stroke-width="0.38" >(TO)</text>
<text transform="translate(1488.40,725.50) scale(0.9790,1)" font-size="63" fill="#000" stroke="#fff" stroke-width="0.38" >438cm</text>
<text transform="translate(1656.55,700.50) scale(0.9209,1)" font-size="42.5" fill="#000" stroke="#fff" stroke-width="0.26" >-1</text>
<text transform="translate(1707.09,725.50) scale(0.9394,1)" font-size="63" fill="#000" stroke="#fff" stroke-width="0.38" >E</text>
<text transform="translate(1739.50,741.80) scale(1.1269,1)" font-size="42.5" fill="#000" stroke="#fff" stroke-width="0.26" >2</text>
<text transform="translate(1761.76,700.50) scale(1.0646,1)" font-size="42.5" fill="#000" stroke="#fff" stroke-width="0.26" >high</text>
<text transform="translate(1485.96,829.20) scale(0.9933,1)" font-size="63" fill="#000" stroke="#fff" stroke-width="0.38" >536cm</text>
<text transform="translate(1656.55,804.20) scale(0.9209,1)" font-size="42.5" fill="#000" stroke="#fff" stroke-width="0.26" >-1</text>
<text transform="translate(1703.37,829.20) scale(0.9516,1)" font-size="63" fill="#000" stroke="#fff" stroke-width="0.38" >2B</text>
<text transform="translate(1769.80,845.50) scale(0.9090,1)" font-size="42.5" fill="#000" stroke="#fff" stroke-width="0.26" >1</text>
<text transform="translate(1807.95,804.20) scale(1.0046,1)" font-size="42.5" fill="#000" stroke="#fff" stroke-width="0.26" >low</text>
<text transform="translate(1870.69,829.20) scale(1.1686,1)" font-size="63" fill="#000" stroke="#fff" stroke-width="0.38" >;</text>
<text transform="translate(1900.60,829.20) scale(0.9764,1)" font-size="63" fill="#000" stroke="#fff" stroke-width="0.38" >2LA</text>
<text transform="translate(1485.95,932.90) scale(0.9975,1)" font-size="63" fill="#000" stroke="#fff" stroke-width="0.38" >584cm</text>
<text transform="translate(1656.42,907.90) scale(0.9401,1)" font-size="42.5" fill="#000" stroke="#fff" stroke-width="0.26" >-1</text>
<text transform="translate(1706.20,932.90) scale(0.9703,1)" font-size="63" fill="#000" stroke="#fff" stroke-width="0.38" >A</text>
<text transform="translate(1750.38,949.20) scale(0.9156,1)" font-size="42.5" fill="#000" stroke="#fff" stroke-width="0.26" >1</text>
<text transform="translate(1770.70,932.90) scale(0.9751,1)" font-size="63" fill="#000" stroke="#fff" stroke-width="0.38" >(LO)</text>
<text transform="translate(1486.92,1036.60) scale(0.9918,1)" font-size="63" fill="#000" stroke="#fff" stroke-width="0.38" >657cm</text>
<text transform="translate(1656.42,1011.60) scale(0.9401,1)" font-size="42.5" fill="#000" stroke="#fff" stroke-width="0.26" >-1</text>
<text transform="translate(1703.78,1036.60) scale(0.9796,1)" font-size="63" fill="#000" stroke="#fff" stroke-width="0.38" >TA+LO</text>
</svg></body></html>
